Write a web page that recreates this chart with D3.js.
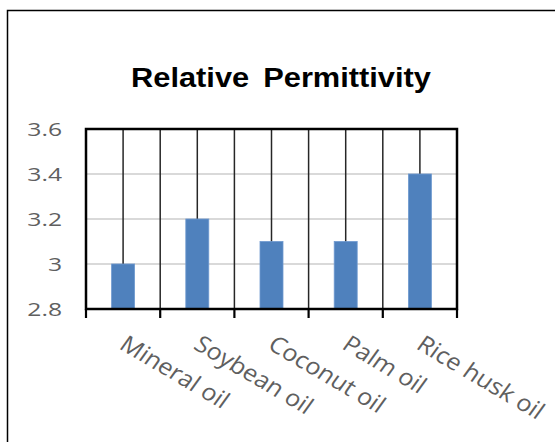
<!DOCTYPE html>
<html>
<head>
<meta charset="utf-8">
<script src="https://cdn.jsdelivr.net/npm/d3@7"></script>
<style>
  html, body { margin: 0; padding: 0; background: #fff; }
  svg { display: block; }
</style>
</head>
<body>
<svg id="chart" width="555" height="442"></svg>
<script>
// Relative permittivity of insulating oils
const categories = ["Mineral oil", "Soybean oil", "Coconut oil", "Palm oil", "Rice husk oil"];
const permittivity = [3.0, 3.2, 3.1, 3.1, 3.4];
const yTicks = [2.8, 3.0, 3.2, 3.4, 3.6];
const yTickLabels = ["2.8", "3", "3.2", "3.4", "3.6"];
const titleText = "Relative Permittivity";

const svg = d3.select("#chart");
const W = 555, H = 442;
const plot = { left: 86, right: 457, top: 129, bottom: 309 };

svg.append("rect").attr("width", W).attr("height", H).attr("fill", "#fff");

// chart area border (runs off the right and bottom edges)
svg.append("rect")
  .attr("x", 7.5).attr("y", 10.5)
  .attr("width", W + 10).attr("height", H + 10)
  .attr("fill", "none").attr("stroke", "#000").attr("stroke-width", 1.5);

// title
svg.append("text")
  .attr("transform", "translate(281,87) scale(1.1,1)")
  .attr("text-anchor", "middle")
  .attr("font-family", "Liberation Sans, Arial, sans-serif")
  .attr("font-weight", "bold")
  .attr("font-size", 28)
  .attr("word-spacing", 5)
  .attr("fill", "#000")
  .text(titleText);

const x = d3.scaleBand().domain(categories).range([plot.left, plot.right]).paddingInner(0).paddingOuter(0);
const y = d3.scaleLinear().domain([2.8, 3.6]).range([plot.bottom, plot.top]);

// horizontal gridlines
svg.append("g").selectAll("line")
  .data(yTicks.filter(v => v > 2.8 && v < 3.6))
  .join("line")
  .attr("x1", plot.left).attr("x2", plot.right)
  .attr("y1", d => y(d)).attr("y2", d => y(d))
  .attr("stroke", "#d9d9d9").attr("stroke-width", 2);

// vertical lines at category boundaries and centres
const boundaries = d3.range(1, categories.length).map(i => plot.left + i * x.step());
const centres = categories.map(c => x(c) + x.bandwidth() / 2);
svg.append("g").selectAll("line")
  .data(boundaries.concat(centres))
  .join("line")
  .attr("x1", d => d).attr("x2", d => d)
  .attr("y1", plot.top).attr("y2", plot.bottom)
  .attr("stroke", "#262626").attr("stroke-width", 1.5);

// bars
const barW = 23;
svg.append("g").selectAll("rect")
  .data(categories)
  .join("rect")
  .attr("x", (d) => x(d) + x.bandwidth() / 2 - barW / 2)
  .attr("y", (d, i) => y(permittivity[i]))
  .attr("width", barW)
  .attr("height", (d, i) => y(2.8) - y(permittivity[i]))
  .attr("fill", "#4f81bd")
  .attr("stroke", "#6f9ad0").attr("stroke-width", 0.8);

// plot frame
svg.append("rect")
  .attr("x", plot.left).attr("y", plot.top)
  .attr("width", plot.right - plot.left).attr("height", plot.bottom - plot.top)
  .attr("fill", "none").attr("stroke", "#000").attr("stroke-width", 2.5);

// bottom tick marks at category boundaries
svg.append("g").selectAll("line")
  .data([plot.left].concat(boundaries, [plot.right]))
  .join("line")
  .attr("x1", d => d).attr("x2", d => d)
  .attr("y1", plot.bottom).attr("y2", plot.bottom + 9)
  .attr("stroke", "#000").attr("stroke-width", 2.2);

// y axis labels
const yAxis = svg.append("g")
  .attr("transform", `translate(${plot.left},0)`)
  .call(d3.axisLeft(y).tickValues(yTicks).tickSize(0).tickPadding(0)
    .tickFormat((d, i) => yTickLabels[i]));
yAxis.select(".domain").remove();
yAxis.selectAll("text")
  .attr("font-family", "Open Sans, sans-serif")
  .attr("font-size", 19)
  .attr("fill", "#5f5f5f")
  .attr("x", 0)
  .attr("dy", "0.36em")
  .attr("transform", "translate(-24,0) scale(1.3,1)");

// x axis labels, rotated
const xAxis = svg.append("g")
  .attr("transform", `translate(0,${plot.bottom})`)
  .call(d3.axisBottom(x).tickSize(0).tickPadding(0));
xAxis.select(".domain").remove();
xAxis.selectAll("text")
  .attr("font-family", "Open Sans, sans-serif")
  .attr("font-size", 23)
  .attr("fill", "#5f5f5f")
  .attr("text-anchor", "start")
  .attr("x", 0).attr("y", 0).attr("dy", 0)
  .attr("transform", "translate(-5,39) scale(1.1,1) rotate(33)");
</script>
</body>
</html>
